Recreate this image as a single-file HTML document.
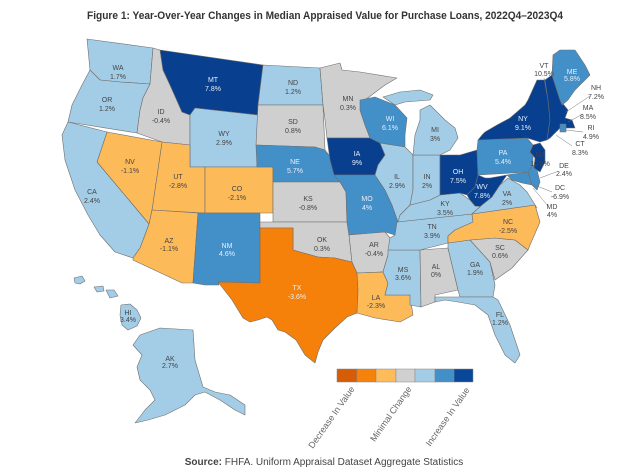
<!DOCTYPE html>
<html><head><meta charset="utf-8"><style>
html,body{margin:0;padding:0;background:#fff;}
svg{display:block;font-family:"Liberation Sans",sans-serif;}
.s{stroke:#6e6e6e;stroke-width:0.6;stroke-linejoin:round}
.lb{fill:#a3cde6}.mb{fill:#4390c8}.db{fill:#083f8e}.gr{fill:#cfcfcf}.lo{fill:#fdba58}.or{fill:#f5800a}
.t{font-size:7px;fill:#444;text-anchor:middle}
.w{font-size:7px;fill:#e8eef8;text-anchor:middle}
</style></head><body>
<svg width="640" height="475" viewBox="0 0 640 475">
<text x="325" y="19" font-size="11" font-weight="bold" fill="#333" text-anchor="middle" textLength="476" lengthAdjust="spacingAndGlyphs">Figure 1: Year-Over-Year Changes in Median Appraised Value for Purchase Loans, 2022Q4–2023Q4</text>
<g class="s">
<polygon class="lb" points="87,39 153,48 150,84 120,82 100,80 90,70"/>
<polygon class="lb" points="90,70 100,80 120,82 150,84 143,98 140,110 137,133 68,122 72,105 82,85"/>
<polygon class="gr" points="153,48 160,50 163,70 170,85 182,112 190,115 190,145 162,142 137,133 140,110 143,98 150,84"/>
<polygon class="db" points="160,50 263,65 258,115 195,108 190,115 182,112 170,85 163,70"/>
<polygon class="lb" points="195,108 258,115 257,167 190,167 190,115"/>
<polygon class="lo" points="162,142 190,145 190,167 205,167 205,213 152,210"/>
<polygon class="lo" points="107,132 162,142 152,210 149,224 97,162"/>
<polygon class="lb" points="68,122 107,132 97,162 149,224 145,235 140,248 133,258 115,252 100,235 88,215 75,190 65,160 62,135"/>
<polygon class="lo" points="152,210 198,213 193,283 182,283 133,260 133,258 140,248 145,235 149,224"/>
<polygon class="lo" points="205,167 273,167 273,213 205,213"/>
<polygon class="mb" points="198,213 260,213 260,283 218,282 219,285 205,285 193,283"/>
<polygon class="lb" points="263,65 320,68 323,105 258,105"/>
<polygon class="gr" points="258,105 323,105 325,150 315,147 256,145"/>
<polygon class="mb" points="256,145 315,147 325,150 333,160 340,182 273,182 273,167 257,167"/>
<polygon class="gr" points="273,182 340,182 346,192 347,222 273,222"/>
<polygon class="gr" points="260,222 347,222 349,235 352,262 335,258 318,257 300,252 293,250 293,228 260,228"/>
<polygon class="or" points="260,228 293,228 293,250 300,252 318,257 335,258 352,262 357,273 358,290 357,313 347,317 335,328 323,340 318,352 315,363 305,355 296,340 285,332 278,330 272,320 267,317 258,320 250,322 243,318 232,300 218,282 260,283"/>
<polygon class="gr" points="320,68 340,63 342,70 360,72 397,78 385,85 365,100 360,110 365,125 370,138 327,138 325,120 323,105"/>
<polygon class="db" points="327,138 370,138 380,143 385,155 378,165 375,175 334,175 330,160"/>
<polygon class="mb" points="334,175 375,175 385,190 392,205 398,222 395,235 385,232 349,235 347,222 346,192 340,182"/>
<polygon class="gr" points="349,235 385,232 390,238 388,255 383,272 357,273 352,262"/>
<polygon class="lo" points="357,273 383,272 388,283 385,295 410,295 413,315 400,322 375,318 357,313 358,290"/>
<polygon class="lb" points="388,250 420,250 421,307 410,305 410,295 385,295 388,283 383,272 388,255"/>
<polygon class="gr" points="420,250 448,248 458,290 435,295 435,302 421,307"/>
<polygon class="lb" points="448,243 470,240 490,262 495,285 493,297 460,297 458,290 448,248"/>
<polygon class="lb" points="435,297 460,297 493,297 498,300 510,325 520,355 515,363 505,355 495,335 488,315 475,305 458,302 445,300 435,302"/>
<polygon class="gr" points="470,240 495,238 515,240 528,250 512,268 495,280 490,262"/>
<polygon class="lb" points="397,222 472,214 473,222 455,230 448,236 448,243 420,250 388,250 390,238 395,235"/>
<polygon class="lo" points="472,214 535,205 540,222 530,245 528,250 515,240 495,238 470,240 448,243 448,236 455,230 473,222"/>
<polygon class="lb" points="400,215 410,205 430,200 440,195 460,193 470,200 482,205 472,214 397,222"/>
<polygon class="mb" points="360,100 375,97 395,105 407,118 405,135 405,147 380,143 370,138 365,125 360,110"/>
<polygon class="lb" points="380,143 405,147 413,155 413,190 410,205 400,215 398,222 392,205 385,190 375,175 378,165 385,155"/>
<polygon class="lb" points="413,155 440,155 440,195 430,200 410,205 413,190"/>
<polygon class="db" points="440,155 460,155 477,150 478,175 475,187 467,195 460,193 440,195"/>
<polygon class="db" points="467,195 475,187 478,175 485,178 490,178 507,175 500,185 492,197 485,207 475,206 470,200"/>
<polygon class="lb" points="482,205 492,197 500,185 508,178 520,185 527,192 537,208 535,205 472,214"/>
<polygon class="lb" points="383,97 400,92 420,90 433,95 430,100 405,102 395,105"/>
<polygon class="lb" points="420,110 430,105 445,120 455,128 458,138 450,150 440,155 413,155 415,135 420,120"/>
<polygon class="mb" points="478,140 527,138 533,145 533,165 528,172 478,175 477,150"/>
<polygon class="mb" points="507,175 528,172 532,185 522,183 512,180"/>
<polygon class="mb" points="528,172 533,165 537,170 540,182 537,190 532,185"/>
<polygon class="db" points="485,132 497,125 510,118 525,105 528,100 537,80 545,80 548,100 550,120 547,140 540,142 527,138 478,140 482,135"/>
<polygon class="db" points="545,80 552,75 560,100 568,110 565,118 572,120 575,128 560,128 550,138 547,140 550,120 548,100"/>
<polygon class="mb" points="560,124 566,124 566,132 560,132"/>
<polygon class="mb" points="552,75 553,55 560,50 575,50 585,65 590,75 575,90 568,100 562,105 560,100"/>
<polygon class="db" points="533,145 540,143 545,150 545,162 540,172 534,168 535,158 530,152"/>
<polygon class="lb" points="74,278 82,276 85,281 80,284 75,283"/>
<polygon class="lb" points="94,287 103,286 104,291 97,292"/>
<polygon class="lb" points="106,290 114,290 118,296 110,298"/>
<polygon class="lb" points="121,305 130,304 137,310 141,318 137,326 128,330 122,325 120,315"/>
<polygon class="lb" points="160,328 193,330 195,360 203,387 215,392 230,395 245,405 245,415 235,410 220,400 205,392 195,395 185,405 165,415 148,420 135,423 145,410 155,400 150,390 140,380 137,367 142,355 133,345 140,335"/>
</g>
<g fill="none" stroke="#777" stroke-width="0.5">
<line x1="544" y1="78" x2="547" y2="95"/><line x1="590" y1="96" x2="566" y2="112"/><line x1="583" y1="114" x2="568" y2="122"/>
<line x1="583" y1="132" x2="566" y2="130"/><line x1="572" y1="146" x2="556" y2="135"/><line x1="556" y1="172" x2="540" y2="178"/>
<line x1="552" y1="192" x2="532" y2="184"/><line x1="548" y1="206" x2="533" y2="188"/>
</g>
<g>
<text class="t" x="118" y="70">WA</text><text class="t" x="118" y="79">1.7%</text>
<text class="t" x="107" y="102">OR</text><text class="t" x="107" y="111">1.2%</text>
<text class="t" x="161" y="114">ID</text><text class="t" x="161" y="123">-0.4%</text>
<text class="w" x="213" y="82">MT</text><text class="w" x="213" y="91">7.8%</text>
<text class="t" x="293" y="85">ND</text><text class="t" x="293" y="94">1.2%</text>
<text class="t" x="293" y="124">SD</text><text class="t" x="293" y="133">0.8%</text>
<text class="t" x="224" y="136">WY</text><text class="t" x="224" y="145">2.9%</text>
<text class="t" x="130" y="164">NV</text><text class="t" x="130" y="173">-1.1%</text>
<text class="t" x="178" y="179">UT</text><text class="t" x="178" y="188">-2.8%</text>
<text class="t" x="237" y="191">CO</text><text class="t" x="237" y="200">-2.1%</text>
<text class="t" x="92" y="194">CA</text><text class="t" x="92" y="203">2.4%</text>
<text class="w" x="295" y="164">NE</text><text class="w" x="295" y="173">5.7%</text>
<text class="t" x="308" y="201">KS</text><text class="t" x="308" y="210">-0.8%</text>
<text class="t" x="348" y="101">MN</text><text class="t" x="348" y="110">0.3%</text>
<text class="w" x="390" y="121">WI</text><text class="w" x="390" y="130">6.1%</text>
<text class="w" x="357" y="156">IA</text><text class="w" x="357" y="165">9%</text>
<text class="t" x="435" y="132">MI</text><text class="t" x="435" y="141">3%</text>
<text class="t" x="397" y="179">IL</text><text class="t" x="397" y="188">2.9%</text>
<text class="t" x="427" y="179">IN</text><text class="t" x="427" y="188">2%</text>
<text class="w" x="458" y="174">OH</text><text class="w" x="458" y="183">7.5%</text>
<text class="w" x="482" y="189">WV</text><text class="w" x="482" y="198">7.8%</text>
<text class="t" x="445" y="206">KY</text><text class="t" x="445" y="215">3.5%</text>
<text class="t" x="507" y="196">VA</text><text class="t" x="507" y="205">2%</text>
<text class="w" x="367" y="201">MO</text><text class="w" x="367" y="210">4%</text>
<text class="t" x="432" y="229">TN</text><text class="t" x="432" y="238">3.9%</text>
<text class="t" x="508" y="224">NC</text><text class="t" x="508" y="233">-2.5%</text>
<text class="w" x="503" y="155">PA</text><text class="w" x="503" y="164">5.4%</text>
<text class="w" x="523" y="121">NY</text><text class="w" x="523" y="130">9.1%</text>
<text class="t" x="540" y="157">NJ</text><text class="t" x="540" y="166">10.8%</text>
<text class="t" x="544" y="68">VT</text><text class="t" x="544" y="76">10.5%</text>
<text class="w" x="572" y="74">ME</text><text class="w" x="572" y="81">5.8%</text>
<text class="t" x="596" y="90">NH</text><text class="t" x="596" y="99">7.2%</text>
<text class="t" x="588" y="110">MA</text><text class="t" x="588" y="119">8.5%</text>
<text class="t" x="591" y="130">RI</text><text class="t" x="591" y="139">4.9%</text>
<text class="t" x="580" y="146">CT</text><text class="t" x="580" y="155">8.3%</text>
<text class="t" x="564" y="168">DE</text><text class="t" x="564" y="176">2.4%</text>
<text class="t" x="560" y="190">DC</text><text class="t" x="560" y="199">-6.9%</text>
<text class="t" x="552" y="209">MD</text><text class="t" x="552" y="217">4%</text>
<text class="t" x="322" y="242">OK</text><text class="t" x="322" y="251">0.3%</text>
<text class="t" x="374" y="247">AR</text><text class="t" x="374" y="256">-0.4%</text>
<text class="t" x="169" y="243">AZ</text><text class="t" x="169" y="251">-1.1%</text>
<text class="w" x="227" y="248">NM</text><text class="w" x="227" y="256">4.6%</text>
<text class="w" x="297" y="290">TX</text><text class="w" x="297" y="299">-3.6%</text>
<text class="t" x="376" y="300">LA</text><text class="t" x="376" y="308">-2.3%</text>
<text class="t" x="403" y="272">MS</text><text class="t" x="403" y="280">3.6%</text>
<text class="t" x="436" y="269">AL</text><text class="t" x="436" y="277">0%</text>
<text class="t" x="475" y="267">GA</text><text class="t" x="475" y="275">1.9%</text>
<text class="t" x="500" y="250">SC</text><text class="t" x="500" y="258">0.6%</text>
<text class="t" x="500" y="317">FL</text><text class="t" x="500" y="325">1.2%</text>
<text class="t" x="128" y="315">HI</text><text class="t" x="128" y="322">3.4%</text>
<text class="t" x="170" y="361">AK</text><text class="t" x="170" y="368">2.7%</text>
</g>
<g stroke="#888" stroke-width="0.5">
<rect x="337" y="369" width="20" height="13" fill="#d65c06"/>
<rect x="357" y="369" width="19" height="13" fill="#f5820b"/>
<rect x="376" y="369" width="20" height="13" fill="#fdbb5a"/>
<rect x="396" y="369" width="19" height="13" fill="#d0d0d0"/>
<rect x="415" y="369" width="20" height="13" fill="#a3cde6"/>
<rect x="435" y="369" width="19" height="13" fill="#4390c8"/>
<rect x="454" y="369" width="19" height="13" fill="#08479a"/>
</g>
<g font-size="9" fill="#666" text-anchor="end">
<text transform="translate(355,389) rotate(-55)">Decrease In Value</text>
<text transform="translate(412,389) rotate(-55)">Minimal Change</text>
<text transform="translate(470,390) rotate(-55)">Increase In Value</text>
</g>
<text x="324" y="465" font-size="10" fill="#444" text-anchor="middle"><tspan font-weight="bold">Source:</tspan> FHFA. Uniform Appraisal Dataset Aggregate Statistics</text>
</svg>
</body></html>
